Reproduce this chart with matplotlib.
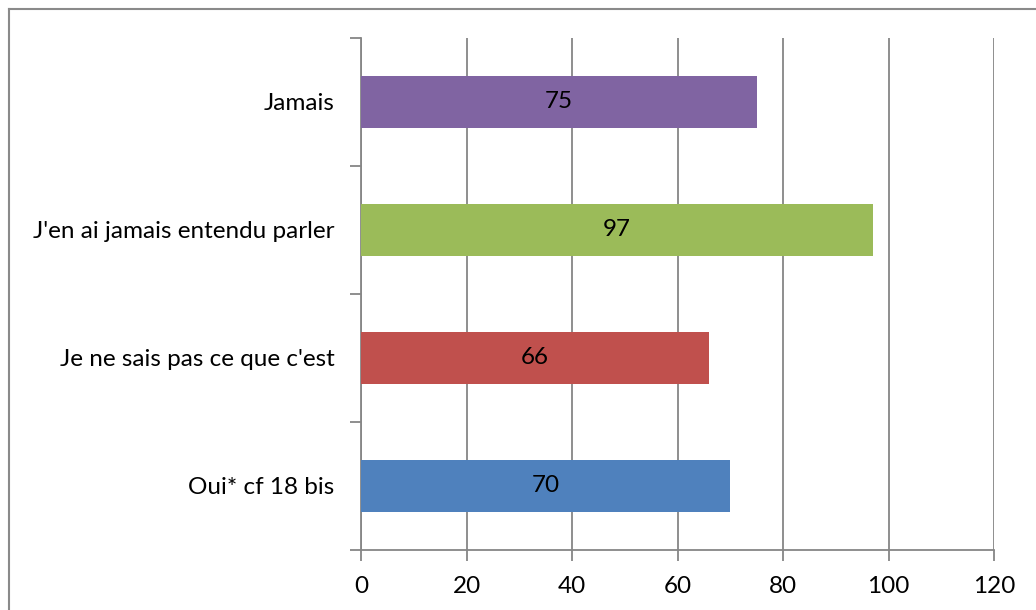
import matplotlib
matplotlib.use("Agg")
import matplotlib.pyplot as plt
from matplotlib.lines import Line2D

categories = ["Oui* cf 18 bis", "Je ne sais pas ce que c'est", "J'en ai jamais entendu parler", "Jamais"]
values = [70, 66, 97, 75]
colors = ["#4F81BD", "#C0504D", "#9BBB59", "#8064A2"]
xticks = [0, 20, 40, 60, 80, 100, 120]

plt.rcParams['font.family'] = ['Lato', 'DejaVu Sans']
W, H = 1036, 610
FS = 17.5
fig = plt.figure(figsize=(W/100, H/100), dpi=100)
ax = fig.add_axes([361/W, 1-550/H, (994-361)/W, (550-38)/H])

grid_c = "#868686"
ypos = list(range(len(categories)))
bars = ax.barh(ypos, values, height=0.4, color=colors, zorder=3)
for b, v in zip(bars, values):
    ax.text(v/2, b.get_y()+b.get_height()/2, str(v), ha='center', va='center',
            fontsize=FS, color='black', zorder=4)

ax.set_xlim(0, 120)
ax.set_ylim(-0.5, len(categories)-0.5)
ax.set_xticks(xticks)
ax.set_xticklabels([str(t) for t in xticks], fontsize=FS)
ax.xaxis.grid(True, color=grid_c, linewidth=1.3, zorder=0)
ax.set_yticks(ypos)
ax.set_yticklabels(categories, fontsize=FS)
ax.set_yticks([i-0.5 for i in range(len(categories)+1)], minor=True)
ax.tick_params(axis='y', which='major', length=0, pad=19)
ax.tick_params(axis='y', which='minor', length=8, color=grid_c, width=1.3)
ax.tick_params(axis='x', length=8, color=grid_c, width=1.3, pad=11)
for s in ['top', 'right']:
    ax.spines[s].set_visible(False)
for s in ['left', 'bottom']:
    ax.spines[s].set_color(grid_c)
    ax.spines[s].set_linewidth(1.3)

# outer chart border (left and top visible)
fig.add_artist(Line2D([8.5/W, 8.5/W], [0, 1-8.5/H], transform=fig.transFigure, color="#8a8a8a", lw=1.5))
fig.add_artist(Line2D([8.5/W, 1], [1-8.5/H, 1-8.5/H], transform=fig.transFigure, color="#8a8a8a", lw=1.5))

fig.savefig("out.png", dpi=100)
